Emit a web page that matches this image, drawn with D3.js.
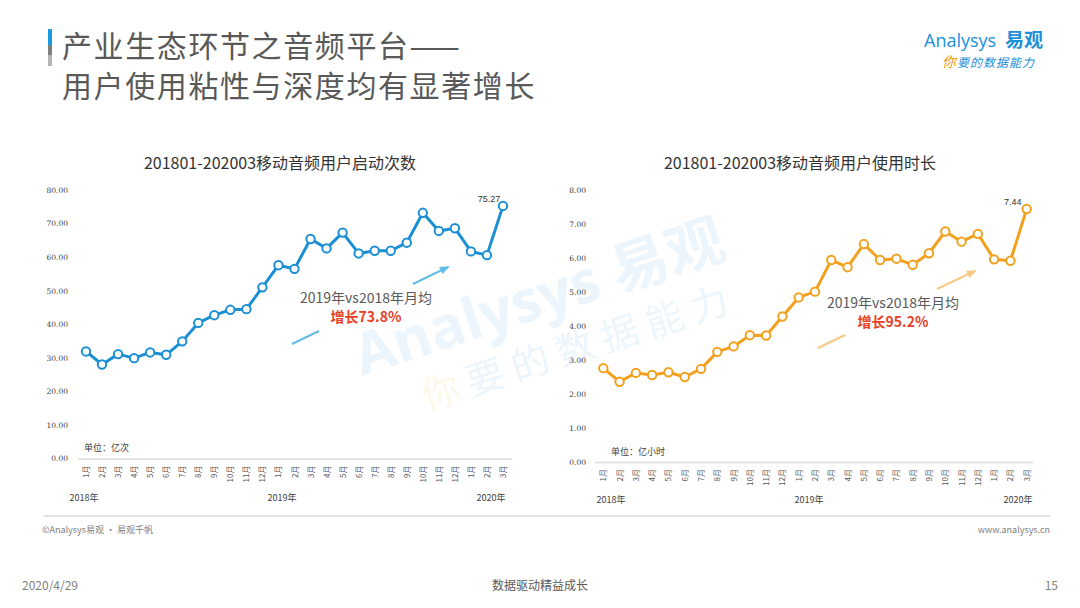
<!DOCTYPE html>
<html>
<head>
<meta charset="utf-8">
<script src="https://cdn.jsdelivr.net/npm/d3@7"></script>
<style>
  body { margin: 0; background: #fff; }
  svg { display: block; font-family: "Noto Sans CJK SC", "Noto Sans", sans-serif; }
</style>
</head>
<body>
<div id="chart"></div>
<script>
// month labels, Jan 2018 .. Mar 2020
const months = ["1月","2月","3月","4月","5月","6月","7月","8月","9月","10月","11月","12月",
                "1月","2月","3月","4月","5月","6月","7月","8月","9月","10月","11月","12月",
                "1月","2月","3月"];
const years = ["2018年", "2019年", "2020年"];

// 启动次数 (亿次)
const launches = [31.9, 28.0, 31.1, 29.9, 31.6, 30.9, 34.9, 40.4, 42.7, 44.3, 44.5, 51.0,
                  57.6, 56.5, 65.4, 62.6, 67.3, 61.1, 61.9, 61.9, 64.3, 73.2, 67.8, 68.6,
                  61.7, 60.6, 75.27];
const launchTicks = [0, 10, 20, 30, 40, 50, 60, 70, 80];

// 使用时长 (亿小时)
const duration = [2.76, 2.36, 2.62, 2.56, 2.64, 2.50, 2.74, 3.24, 3.40, 3.73, 3.72, 4.28,
                  4.84, 5.01, 5.94, 5.73, 6.41, 5.94, 5.98, 5.80, 6.14, 6.78, 6.48, 6.71,
                  5.96, 5.92, 7.44];
const durationTicks = [0, 1, 2, 3, 4, 5, 6, 7, 8];

const W = 1080, H = 608;
const svg = d3.select("#chart").append("svg").attr("width", W).attr("height", H);

// watermark (drawn first so it sits behind everything)
const wm = svg.append("g").attr("transform", "translate(362,376) rotate(-18)").attr("opacity", 0.08);
wm.append("text").attr("font-size", 58).attr("font-weight", "bold").attr("fill", "#1a8fd8")
  .attr("font-family", "'Open Sans', 'Noto Sans CJK SC'")
  .text("Analysys 易观");
const wm2 = wm.append("text").attr("x", 51).attr("y", 53).attr("font-size", 38)
  .attr("letter-spacing", 9).attr("fill", "#1a8fd8");
wm2.append("tspan").attr("fill", "#e0b400").text("你");
wm2.append("tspan").text("要的数据能力");

// header
svg.append("rect").attr("x", 48).attr("y", 29).attr("width", 4).attr("height", 16).attr("fill", "#1a9ae0");
svg.append("rect").attr("x", 48).attr("y", 45).attr("width", 4).attr("height", 10).attr("fill", "#7f7f7f");
svg.append("rect").attr("x", 48).attr("y", 55).attr("width", 4).attr("height", 11).attr("fill", "#b4b4b4");
const t1 = svg.append("text").attr("x", 62).attr("y", 57).attr("font-size", 30)
  .attr("letter-spacing", 1.6).attr("fill", "#595959");
t1.append("tspan").text("产业生态环节之音频平台");
t1.append("tspan").attr("letter-spacing", 4).text("——");
svg.append("text").attr("x", 62).attr("y", 97).attr("font-size", 30)
  .attr("letter-spacing", 1.6).attr("fill", "#595959")
  .text("用户使用粘性与深度均有显著增长");

// logo
svg.append("text").attr("x", 924).attr("y", 47).attr("font-size", 18).attr("fill", "#1b8fd8")
  .attr("font-family", "'Open Sans', sans-serif").text("Analysys");
svg.append("text").attr("x", 1005).attr("y", 47).attr("font-size", 19).attr("font-weight", "bold")
  .attr("fill", "#1b8fd8").text("易观");
const slogan = svg.append("text").attr("x", 942).attr("y", 67).attr("font-size", 12)
  .attr("font-style", "italic").attr("letter-spacing", 1).attr("fill", "#1b8fd8");
slogan.append("tspan").attr("fill", "#f39800").attr("font-size", 14).text("你");
slogan.append("tspan").text("要的数据能力");

function drawPanel(cfg) {
    const g = svg.append("g");

    const x = d3.scalePoint().domain(d3.range(months.length)).range(cfg.xRange);
    const y = d3.scaleLinear().domain([0, d3.max(cfg.ticks)]).range(cfg.yRange);

    g.append("text").attr("x", cfg.titleX).attr("y", 169).attr("text-anchor", "middle")
        .attr("font-size", 16).attr("fill", "#333").text(cfg.title);

    // y axis labels
    const yAxis = g.append("g").attr("transform", `translate(${cfg.yAxisX},0)`)
        .call(d3.axisLeft(y).tickValues(cfg.ticks).tickSize(0).tickPadding(0).tickFormat(d3.format(".2f")));
    yAxis.select(".domain").remove();
    yAxis.attr("color", "#3a3a3a");
    yAxis.selectAll("text").attr("fill", "#3a3a3a")
        .attr("font-family", "'DejaVu Serif', serif").attr("font-size", 7.5);

    // baseline
    g.append("line").attr("x1", cfg.axisX[0]).attr("x2", cfg.axisX[1])
        .attr("y1", y(0) + 0.5).attr("y2", y(0) + 0.5)
        .attr("stroke", "#e3e3e3").attr("stroke-width", 2);

    // month labels, rotated
    g.selectAll(".month").data(months).enter().append("text")
        .attr("class", "month")
        .attr("transform", (d, i) => `translate(${x(i) + 3},${y(0) + 7}) rotate(-90)`)
        .attr("text-anchor", "end").attr("font-size", 8).attr("fill", "#595959")
        .text(d => d);

    // year labels
    g.selectAll(".year").data(years).enter().append("text")
        .attr("class", "year")
        .attr("x", (d, i) => cfg.yearX[i])
        .attr("y", cfg.yearY).attr("text-anchor", "middle")
        .attr("font-size", 9).attr("fill", "#404040").text(d => d);

    g.append("text").attr("x", cfg.unitPos[0]).attr("y", cfg.unitPos[1])
        .attr("font-size", 9).attr("fill", "#404040").text(cfg.unit);

    // line + markers
    const line = d3.line().x((d, i) => x(i)).y(d => y(d));
    g.append("path").datum(cfg.values).attr("d", line)
        .attr("fill", "none").attr("stroke", cfg.color).attr("stroke-width", 3)
        .attr("stroke-linejoin", "round");
    g.selectAll(".dot").data(cfg.values).enter().append("circle")
        .attr("class", "dot")
        .attr("cx", (d, i) => x(i)).attr("cy", d => y(d)).attr("r", 4.2)
        .attr("fill", "#fff").attr("stroke", cfg.color).attr("stroke-width", 2);

    // last value label
    const last = cfg.values.length - 1;
    g.append("text").attr("x", x(last) - 14).attr("y", y(cfg.values[last]) - 4)
        .attr("text-anchor", "middle").attr("font-size", 9).attr("fill", "#333")
        .attr("font-family", "'Liberation Sans', sans-serif")
        .text(cfg.lastLabel);

    // growth arrow, broken around the annotation text
    const a = cfg.arrow;
    g.append("line").attr("x1", a[0][0]).attr("y1", a[0][1]).attr("x2", a[1][0]).attr("y2", a[1][1])
        .attr("stroke", cfg.arrowColor).attr("stroke-width", 2);
    g.append("line").attr("x1", a[2][0]).attr("y1", a[2][1]).attr("x2", a[3][0]).attr("y2", a[3][1])
        .attr("stroke", cfg.arrowColor).attr("stroke-width", 2);
    const ang = Math.atan2(a[3][1] - a[2][1], a[3][0] - a[2][0]);
    const hl = 8, hw = 4;
    const tip = a[3];
    const bx = tip[0] - hl * Math.cos(ang), by = tip[1] - hl * Math.sin(ang);
    g.append("path")
        .attr("d", `M${tip[0] + 2 * Math.cos(ang)},${tip[1] + 2 * Math.sin(ang)}` +
                   `L${bx - hw * Math.sin(ang)},${by + hw * Math.cos(ang)}` +
                   `L${bx + hw * Math.sin(ang)},${by - hw * Math.cos(ang)}Z`)
        .attr("fill", cfg.arrowColor);

    g.append("text").attr("x", cfg.notePos[0]).attr("y", cfg.notePos[1])
        .attr("text-anchor", "middle").attr("font-size", 14).attr("fill", "#595959")
        .text("2019年vs2018年月均");
    g.append("text").attr("x", cfg.notePos[0]).attr("y", cfg.notePos[1] + 19)
        .attr("text-anchor", "middle").attr("font-size", 14).attr("font-weight", "bold")
        .attr("fill", "#e8401f").text(cfg.growth);
}

drawPanel({
    title: "201801-202003移动音频用户启动次数",
    titleX: 280,
    values: launches,
    ticks: launchTicks,
    xRange: [86, 503],
    yRange: [458.5, 190],
    yAxisX: 68,
    axisX: [78, 512],
    yearX: [84, 282, 491],
    yearY: 501,
    unit: "单位：亿次",
    unitPos: [84, 451],
    color: "#1a8fd4",
    lastLabel: "75.27",
    arrow: [[292, 344], [319, 331], [413, 284], [448, 267]],
    arrowColor: "#62bde6",
    notePos: [366, 303],
    growth: "增长73.8%"
});

drawPanel({
    title: "201801-202003移动音频用户使用时长",
    titleX: 800,
    values: duration,
    ticks: durationTicks,
    xRange: [603.3, 1026.7],
    yRange: [462, 190],
    yAxisX: 586,
    axisX: [595, 1033],
    yearX: [611, 809, 1018],
    yearY: 503,
    unit: "单位：亿小时",
    unitPos: [611, 455],
    color: "#f2a11f",
    lastLabel: "7.44",
    arrow: [[818, 348], [845, 335], [937, 289], [975, 271]],
    arrowColor: "#f7c985",
    notePos: [893, 308],
    growth: "增长95.2%"
});

// footer
svg.append("line").attr("x1", 44).attr("x2", 1050).attr("y1", 516).attr("y2", 516)
  .attr("stroke", "#e3e3e3").attr("stroke-width", 2);
svg.append("text").attr("x", 42).attr("y", 533).attr("font-size", 9).attr("fill", "#7f7f7f")
  .text("©Analysys易观 · 易观千帆");
svg.append("text").attr("x", 1050).attr("y", 533).attr("text-anchor", "end").attr("font-size", 9)
  .attr("fill", "#7f7f7f").text("www.analysys.cn");
svg.append("text").attr("x", 22).attr("y", 590).attr("font-size", 12).attr("fill", "#7f7f7f")
  .text("2020/4/29");
svg.append("text").attr("x", 540).attr("y", 590).attr("text-anchor", "middle").attr("font-size", 12)
  .attr("fill", "#595959").text("数据驱动精益成长");
svg.append("text").attr("x", 1058).attr("y", 590).attr("text-anchor", "end").attr("font-size", 12)
  .attr("fill", "#7f7f7f").text("15");
</script>
</body>
</html>
